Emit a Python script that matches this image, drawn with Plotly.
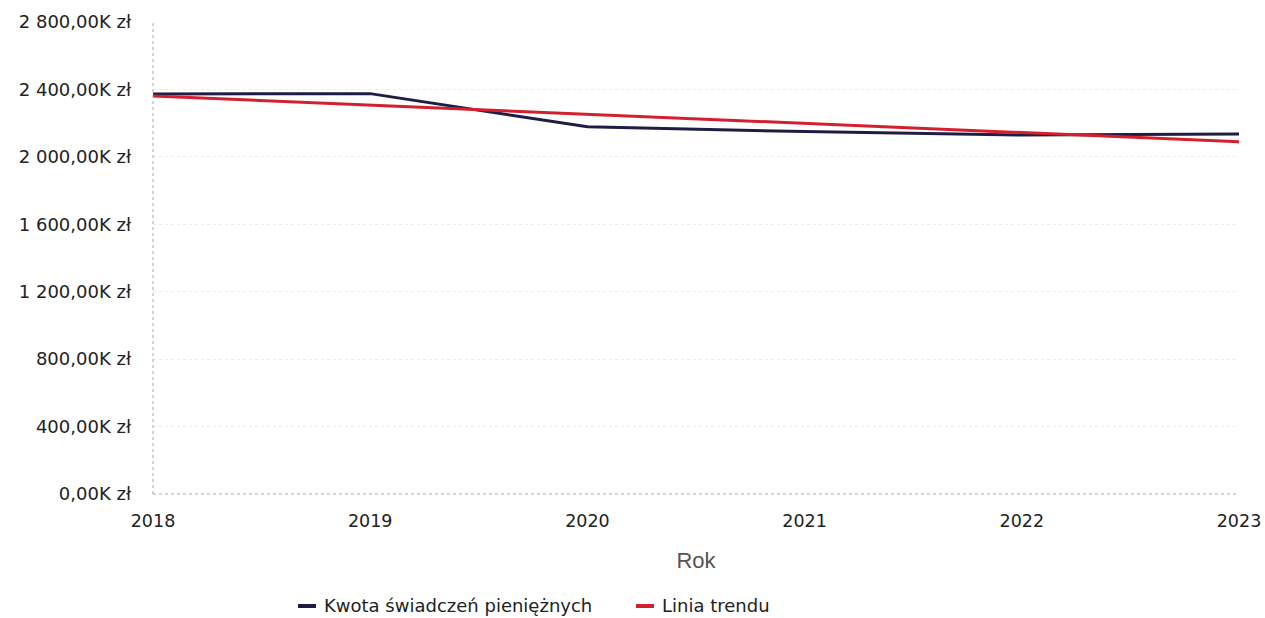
import plotly.graph_objects as go

years = [2018, 2019, 2020, 2021, 2022, 2023]
kwota = [2373, 2375, 2178, 2150, 2129, 2135]  # tys. zł
trend_years = [2018, 2023]
trend_vals = [2361, 2090]
y_ticks = [0, 400, 800, 1200, 1600, 2000, 2400, 2800]
series_names = ["Kwota świadczeń pieniężnych", "Linia trendu"]
series_colors = ["#1e1e44", "#d41f2f"]


def fmt(v):
    s = f"{v:,.2f}".replace(",", " ").replace(".", ",")
    return s + "K zł"


W, H = 1265, 618
L, R, T, B = 153, 26, 22, 124
PW, PH = W - L - R, H - T - B


def px(x):
    return (x - L) / PW


def py(y):
    return (H - B - y) / PH


font = "DejaVu Sans"
fs = 18
fig = go.Figure()
fig.add_trace(go.Scatter(x=years, y=kwota, mode="lines", name=series_names[0],
                         line=dict(color=series_colors[0], width=3)))
fig.add_trace(go.Scatter(x=trend_years, y=trend_vals, mode="lines", name=series_names[1],
                         line=dict(color=series_colors[1], width=3)))

shapes = [
    dict(type="line", xref="paper", yref="paper", x0=0, x1=0, y0=0, y1=1,
         line=dict(color="#aaaaaa", width=1, dash="dot")),
    dict(type="line", xref="paper", yref="paper", x0=0, x1=1, y0=0, y1=0,
         line=dict(color="#aaaaaa", width=1, dash="dot")),
]
annotations = []
leg_items = [(298, 316, 322), (636, 654, 660)]
for (sx0, sx1, tx), name, col in zip(leg_items, series_names, series_colors):
    shapes.append(dict(type="line", xref="paper", yref="paper", x0=px(sx0), x1=px(sx1),
                       y0=py(606), y1=py(606), line=dict(color=col, width=4)))
    annotations.append(dict(text=name, xref="paper", yref="paper", x=px(tx), y=py(605),
                            xanchor="left", yanchor="middle", showarrow=False,
                            font=dict(family=font, size=fs, color="#222222")))

fig.update_layout(
    width=W, height=H,
    margin=dict(l=L, r=R, t=T, b=B, autoexpand=False),
    paper_bgcolor="white", plot_bgcolor="white",
    font=dict(family=font, size=fs, color="#222222"),
    showlegend=False,
    xaxis=dict(range=[2018, 2023], tickvals=years, ticktext=[str(y) for y in years],
               showgrid=False, zeroline=False, showline=False, ticks="", ticklabelstandoff=14,
               automargin=False, tickfont=dict(size=17.5),
               title=dict(text="Rok", font=dict(family="Liberation Sans", size=22, color="#555555"),
                          standoff=23)),
    yaxis=dict(range=[0, 2800], tickvals=y_ticks, ticktext=[fmt(v) for v in y_ticks],
               showgrid=True, gridcolor="#ececec", griddash="dot", gridwidth=1,
               zeroline=False, showline=False, ticks="", ticklabelstandoff=21,
               automargin=False),
    shapes=shapes,
    annotations=annotations,
)
fig.write_html("out.html", config={"displayModeBar": False},
               post_script="document.body.style.margin='0';")
